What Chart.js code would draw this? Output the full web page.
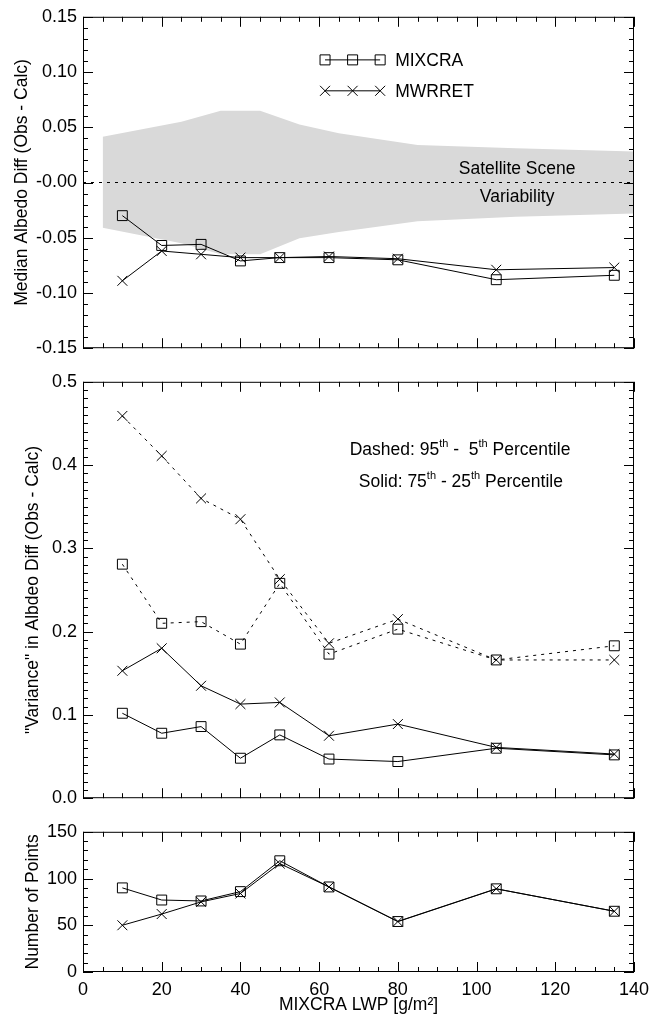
<!DOCTYPE html>
<html>
<head>
<meta charset="utf-8">
<script src="https://cdn.jsdelivr.net/npm/chart.js@4.4.1/dist/chart.umd.min.js"></script>
<style>
  body { margin: 0; background: #fff; }
  #wrap { position: relative; width: 660px; height: 1018px; }
  canvas { position: absolute; left: 0; }
</style>
</head>
<body>
<div id="wrap">
  <canvas id="c1" width="660" height="365" style="top:0px"></canvas>
  <canvas id="c2" width="660" height="450" style="top:365px"></canvas>
  <canvas id="c3" width="660" height="203" style="top:815px"></canvas>
</div>
<script>
// MIXCRA LWP bins (g/m2)
const lwp = [10, 20, 30, 40, 50, 62.5, 80, 105, 135];

// top panel: median albedo difference
const medianMixcra = [-0.030, -0.057, -0.056, -0.071, -0.068, -0.068, -0.070, -0.088, -0.084];
const medianMwrret = [-0.089, -0.062, -0.065, -0.068, -0.068, -0.067, -0.069, -0.079, -0.077];
const medianTickLabels = ['-0.15', '-0.10', '-0.05', '-0.00', '0.05', '0.10', '0.15'];

// satellite scene variability band
const sceneX = [5, 25, 35, 45, 55, 65, 85, 110, 140];
const sceneUpper = [0.0415, 0.055, 0.065, 0.065, 0.0525, 0.0445, 0.034, 0.031, 0.028];
const sceneLower = [-0.041, -0.055, -0.065, -0.065, -0.0505, -0.0447, -0.035, -0.031, -0.028];
const zeroLineX = [0, 140];

// middle panel: percentile spreads
const p95Mixcra = [0.281, 0.210, 0.212, 0.185, 0.258, 0.173, 0.203, 0.166, 0.183];
const p95Mwrret = [0.459, 0.411, 0.360, 0.335, 0.263, 0.186, 0.215, 0.166, 0.166];
const p75Mixcra = [0.102, 0.078, 0.086, 0.048, 0.076, 0.047, 0.044, 0.060, 0.052];
const p75Mwrret = [0.153, 0.180, 0.135, 0.113, 0.115, 0.075, 0.089, 0.061, 0.053];

// bottom panel: number of points
const nMixcra = [90, 77, 76, 86, 119, 91, 54, 89, 65];
const nMwrret = [50, 62, 75, 84, 116, 91, 54, 89, 65];

Chart.defaults.font.family = '"Liberation Sans", Arial, sans-serif';
Chart.defaults.color = '#000';
Chart.defaults.animation = false;

const FONT = '"Liberation Sans", Arial, sans-serif';

function pts(xs, ys) {
    return xs.map((x, i) => ({ x: x, y: ys[i] }));
}

function series(data, style, dashed) {
    return {
        data: data,
        borderColor: '#000',
        borderWidth: 1,
        borderDash: dashed ? [3, 5] : [],
        backgroundColor: 'transparent',
        pointStyle: style,
        pointRadius: 7,
        pointBorderWidth: 1,
        pointBorderColor: '#000',
        pointBackgroundColor: 'transparent',
        fill: false,
        tension: 0
    };
}

function drawMarker(ctx, style, x, y) {
    ctx.beginPath();
    if (style === 'rect') {
        ctx.rect(x - 5, y - 5, 10, 10);
    } else {
        ctx.moveTo(x - 5, y - 5); ctx.lineTo(x + 5, y + 5);
        ctx.moveTo(x - 5, y + 5); ctx.lineTo(x + 5, y - 5);
    }
    ctx.stroke();
}

// text with "th" superscripts
function drawRich(ctx, parts, cx, cy) {
    const big = '17.5px ' + FONT, small = '11px ' + FONT;
    let total = 0;
    parts.forEach(p => { ctx.font = p.sup ? small : big; total += ctx.measureText(p.t).width; });
    let x = cx - total / 2;
    ctx.textAlign = 'left';
    ctx.textBaseline = 'middle';
    parts.forEach(p => {
        ctx.font = p.sup ? small : big;
        ctx.fillText(p.t, x, p.sup ? cy - 6 : cy);
        x += ctx.measureText(p.t).width;
    });
}

// frame with inward ticks on all four sides
const frameTicks = {
    id: 'frameTicks',
    afterDatasetsDraw(chart, args, opts) {
        const ctx = chart.ctx, a = chart.chartArea;
        const xs = chart.scales.x, ys = chart.scales.y;
        ctx.save();
        ctx.strokeStyle = '#000';
        ctx.lineWidth = 1;
        ctx.setLineDash([]);
        ctx.strokeRect(a.left + 0.5, a.top + 0.5, a.right - a.left - 1, a.bottom - a.top - 1);
        ctx.beginPath();
        let n = Math.round((xs.max - xs.min) / opts.xMinor);
        for (let i = 0; i <= n; i++) {
            const v = xs.min + i * opts.xMinor;
            const px = Math.round(xs.getPixelForValue(v)) + 0.5;
            const len = Math.abs(v / opts.xMajor - Math.round(v / opts.xMajor)) < 1e-6 ? 10 : 5;
            ctx.moveTo(px, a.bottom); ctx.lineTo(px, a.bottom - len);
            ctx.moveTo(px, a.top); ctx.lineTo(px, a.top + len);
        }
        n = Math.round((ys.max - ys.min) / opts.yMinor);
        for (let i = 0; i <= n; i++) {
            const v = ys.min + i * opts.yMinor;
            const py = Math.round(ys.getPixelForValue(v)) + 0.5;
            const len = Math.abs(v / opts.yMajor - Math.round(v / opts.yMajor)) < 1e-6 ? 10 : 5;
            ctx.moveTo(a.left, py); ctx.lineTo(a.left + len, py);
            ctx.moveTo(a.right, py); ctx.lineTo(a.right - len, py);
        }
        ctx.stroke();
        ctx.restore();
    }
};

// legend and text notes placed in data coordinates
const notes = {
    id: 'notes',
    afterDatasetsDraw(chart, args, opts) {
        const ctx = chart.ctx, xs = chart.scales.x, ys = chart.scales.y;
        ctx.save();
        ctx.fillStyle = '#000';
        ctx.strokeStyle = '#000';
        ctx.lineWidth = 1;
        (opts.legend || []).forEach(l => {
            const py = ys.getPixelForValue(l.y);
            const x0 = xs.getPixelForValue(l.x0), x1 = xs.getPixelForValue(l.x1);
            ctx.beginPath(); ctx.moveTo(x0, py); ctx.lineTo(x1, py); ctx.stroke();
            [x0, (x0 + x1) / 2, x1].forEach(px => drawMarker(ctx, l.style, px, py));
            ctx.font = '17.5px ' + FONT;
            ctx.textAlign = 'left';
            ctx.textBaseline = 'middle';
            ctx.fillText(l.text, x1 + 15, py + 1);
        });
        (opts.texts || []).forEach(t => {
            drawRich(ctx, t.parts, xs.getPixelForValue(t.x), ys.getPixelForValue(t.y));
        });
        ctx.restore();
    }
};

function xScale(showLabels, height) {
    return {
        type: 'linear', min: 0, max: 140,
        grid: { display: false, drawTicks: false },
        border: { display: false },
        ticks: { display: showLabels, stepSize: 20, padding: 7, font: { size: 18 }, maxRotation: 0 },
        title: {
            display: showLabels, text: 'MIXCRA LWP [g/m²]',
            font: { size: 17.5 }, padding: { top: 0, bottom: 2 }
        },
        afterFit(s) { s.height = height; }
    };
}

function yScale(min, max, step, title, titlePad, cb) {
    return {
        min: min, max: max,
        grid: { display: false, drawTicks: false },
        border: { display: false },
        ticks: { stepSize: step, padding: 6, font: { size: 18 }, callback: cb },
        title: { display: true, text: title, font: { size: 17.5 }, padding: { top: titlePad, bottom: 0 } },
        afterFit(s) { s.width = 83; }
    };
}

function baseOptions(padTop, scales, plugins) {
    return {
        responsive: false,
        events: [],
        layout: { padding: { top: padTop, right: 26, left: 0, bottom: 0 } },
        scales: scales,
        plugins: Object.assign({ legend: { display: false }, tooltip: { enabled: false } }, plugins)
    };
}

// panel 1
const bandUpper = Object.assign(series(pts(sceneX, sceneUpper), false, false), {
    borderWidth: 0, pointRadius: 0, backgroundColor: '#d9d9d9', fill: '+1', order: 10
});
const bandLower = Object.assign(series(pts(sceneX, sceneLower), false, false), {
    borderWidth: 0, pointRadius: 0, order: 10
});
const zeroLine = Object.assign(series(pts(zeroLineX, [0, 0]), false, true), {
    pointRadius: 0, order: 5
});

new Chart(document.getElementById('c1'), {
    type: 'line',
    data: {
        datasets: [
            series(pts(lwp, medianMixcra), 'rect', false),
            series(pts(lwp, medianMwrret), 'crossRot', false),
            zeroLine, bandUpper, bandLower
        ]
    },
    options: baseOptions(13, {
        x: xScale(false, 10),
        y: yScale(-0.15, 0.15, 0.05, 'Median Albedo Diff (Obs - Calc)', 12, (v, i) => medianTickLabels[i])
    }, {
        frameTicks: { xMinor: 5, xMajor: 20, yMinor: 0.01, yMajor: 0.05 },
        notes: {
            legend: [
                { x0: 61.5, x1: 75.5, y: 0.111, style: 'rect', text: 'MIXCRA' },
                { x0: 61.5, x1: 75.5, y: 0.083, style: 'cross', text: 'MWRRET' }
            ],
            texts: [
                { x: 110.3, y: 0.0125, parts: [{ t: 'Satellite Scene' }] },
                { x: 110.3, y: -0.013, parts: [{ t: 'Variability' }] }
            ]
        }
    }),
    plugins: [frameTicks, notes]
});

// panel 2
new Chart(document.getElementById('c2'), {
    type: 'line',
    data: {
        datasets: [
            series(pts(lwp, p95Mixcra), 'rect', true),
            series(pts(lwp, p95Mwrret), 'crossRot', true),
            series(pts(lwp, p75Mixcra), 'rect', false),
            series(pts(lwp, p75Mwrret), 'crossRot', false)
        ]
    },
    options: baseOptions(15, {
        x: xScale(false, 11),
        y: yScale(0, 0.5, 0.1, '"Variance" in Albdeo Diff (Obs - Calc)', 23, v => v.toFixed(1))
    }, {
        frameTicks: { xMinor: 5, xMajor: 20, yMinor: 0.01, yMajor: 0.1 },
        notes: {
            texts: [
                { x: 95.8, y: 0.418, parts: [{ t: 'Dashed: 95' }, { t: 'th', sup: true }, { t: ' -  5' }, { t: 'th', sup: true }, { t: ' Percentile' }] },
                { x: 96, y: 0.380, parts: [{ t: 'Solid: 75' }, { t: 'th', sup: true }, { t: ' - 25' }, { t: 'th', sup: true }, { t: ' Percentile' }] }
            ]
        }
    }),
    plugins: [frameTicks, notes]
});

// panel 3
new Chart(document.getElementById('c3'), {
    type: 'line',
    data: {
        datasets: [
            series(pts(lwp, nMixcra), 'rect', false),
            series(pts(lwp, nMwrret), 'crossRot', false)
        ]
    },
    options: baseOptions(14, {
        x: xScale(true, 46),
        y: yScale(0, 150, 50, 'Number of Points', 23, v => v)
    }, {
        frameTicks: { xMinor: 5, xMajor: 20, yMinor: 10, yMajor: 50 }
    }),
    plugins: [frameTicks]
});
</script>
</body>
</html>
